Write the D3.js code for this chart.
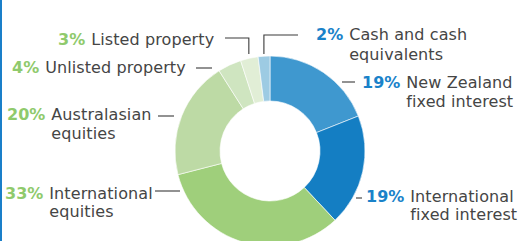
<!DOCTYPE html>
<html lang="en">
  <head>
    <meta charset="utf-8">
    <title>Asset allocation</title>
    <style>
        body { margin: 0; background: #fff; }
        svg { display: block; }
    </style>
    <script src="https://d3js.org/d3.v7.min.js"></script>
  </head>
  <body>
    <script>

    // data, clockwise from 12 o'clock
    const categories = ["New Zealand fixed interest", "International fixed interest", "International equities",
        "Australasian equities", "Unlisted property", "Listed property", "Cash and cash equivalents"];
    const values = [19, 19, 33, 20, 4, 3, 2];
    const line1 = ["New Zealand", "International", "International", "Australasian", "Unlisted property", "Listed property", "Cash and cash"];
    const line2 = ["fixed interest", "fixed interest", "equities", "equities", "", "", "equivalents"];
    const sliceColors = ["#3f98cf", "#147ec3", "#9fcf7b", "#bddaa5", "#cfe5c0", "#e1eed6", "#9dcbe3"];
    const pctColors = ["#1a82c9", "#1a82c9", "#8fca6c", "#8fca6c", "#8fca6c", "#8fca6c", "#1a82c9"];

    // label placement (text start, baselines, leader type)
    const labelPos = [
        {x: 362, y: 88, y2: 107, lead: "dash", d: [342, 355, 82]},
        {x: 366, y: 202, y2: 219.5, lead: "dash", d: [356, 362, 198]},
        {x: 5, y: 199, y2: 217, lead: "dash", d: [155, 180, 191]},
        {x: 7, y: 120, y2: 139, lead: "dash", d: [158, 174, 116]},
        {x: 12, y: 73, lead: "dash", d: [196, 212, 68]},
        {x: 58, y: 45, lead: "elbow", d: [225, 38]},
        {x: 316, y: 40, y2: 59.5, lead: "elbow", d: [298, 35]}
    ];

    const width = 520, height = 241;
    const cx = 270, cy = 151, rOuter = 95, rInner = 50;

    const svg = d3.select("body").append("svg")
        .attr("width", width)
        .attr("height", height);

    // blue edge on the left
    svg.append("rect")
        .attr("x", 0).attr("y", 0)
        .attr("width", 2).attr("height", height)
        .attr("fill", "#1a7fc9");

    const data = categories.map((c, i) => ({name: c, value: values[i], i: i}));

    const pie = d3.pie().sort(null).value(d => d.value);
    const arcs = pie(data);
    const arc = d3.arc().innerRadius(rInner).outerRadius(rOuter);

    const g = svg.append("g").attr("transform", `translate(${cx},${cy})`);

    g.selectAll("path")
        .data(arcs)
        .join("path")
        .attr("d", arc)
        .attr("fill", d => sliceColors[d.data.i])
        .attr("stroke", "#fff")
        .attr("stroke-width", 0.6);

    // leaders
    const leaders = svg.append("g")
        .attr("stroke", "#3a3a3a")
        .attr("stroke-width", 1.1)
        .attr("fill", "none");

    arcs.forEach((a, i) => {
        const p = labelPos[i];
        if (p.lead === "dash") {
            leaders.append("line")
                .attr("x1", p.d[0]).attr("x2", p.d[1])
                .attr("y1", p.d[2]).attr("y2", p.d[2]);
        } else {
            const mid = (a.startAngle + a.endAngle) / 2;
            const ex = cx + (rOuter + 2) * Math.sin(mid);
            leaders.append("path")
                .attr("d", `M${p.d[0]},${p.d[1]}H${ex}V${cy - rOuter - 2}`);
        }
    });

    // labels
    const labels = svg.append("g")
        .style("font-family", "'DejaVu Sans', sans-serif")
        .style("font-size", "16px")
        .style("letter-spacing", "0.1px");

    arcs.forEach((a, i) => {
        const p = labelPos[i];
        const t = labels.append("text")
            .attr("x", p.x)
            .attr("y", p.y);
        const pct = t.append("tspan")
            .attr("fill", pctColors[i])
            .attr("font-weight", 700)
            .style("letter-spacing", "0px")
            .text(values[i] + "%");
        const w = pct.node().getComputedTextLength() + 6;
        t.append("tspan")
            .attr("x", p.x + w)
            .attr("fill", "#454545")
            .text(line1[i]);
        if (line2[i]) {
            labels.append("text")
                .attr("x", p.x + w)
                .attr("y", p.y2)
                .attr("fill", "#454545")
                .text(line2[i]);
        }
    });

    </script>
  </body>
</html>
